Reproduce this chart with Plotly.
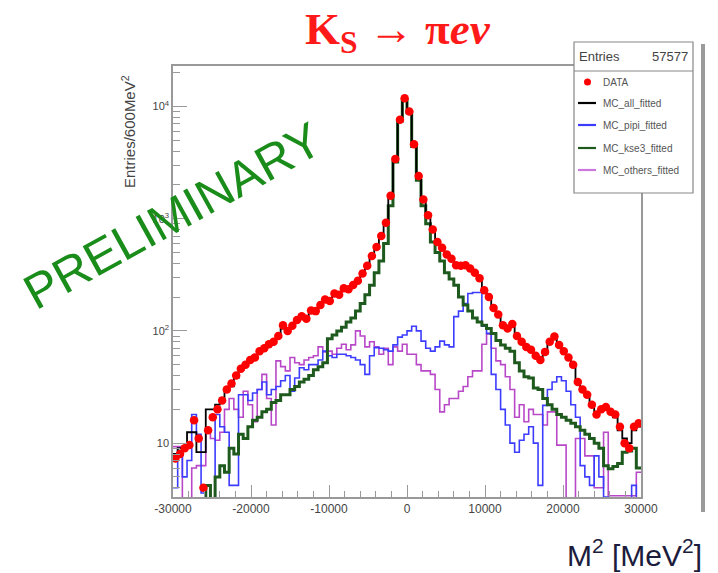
import plotly.graph_objects as go

# ---------------- data ----------------
x_min, x_max, bin_w = -30000, 30000, 600
n_bins = 100

data_vals = [7.3, 8, 9, 9.6, 16, 11, 4, 13, 17, 20,
             24, 30, 34, 40, 46, 50, 55, 58, 66, 70,
             76, 80, 90, 112, 100, 111, 125, 135, 128, 152,
             150, 170, 190, 185, 215, 210, 240, 235, 256, 280,
             325, 380, 465, 560, 700, 920, 1600, 3400, 7600, 11800,
             9000, 4600, 2400, 1480, 1070, 800, 620, 550, 480, 440,
             385, 380, 385, 360, 330, 295, 230, 200, 160, 140,
             112, 105, 115, 90, 80, 72, 68, 60, 55, 65,
             80, 89, 75, 66, 58, 50, 35, 30, 27, 22,
             18, 20, 21, 19, 18, 14, 10, 9, 14, 15]

mc_all = [8, 9, 9, 12.5, 12.5, 8.3, 8.3, 20, 20, 22,
          25, 30, 32, 38, 45, 50, 55, 60, 66, 72,
          76, 82, 90, 105, 100, 112, 125, 132, 130, 150,
          152, 170, 185, 190, 212, 215, 235, 240, 260, 285,
          330, 385, 470, 560, 700, 930, 1600, 3400, 7600, 11800,
          9000, 4600, 2400, 1480, 1070, 800, 630, 550, 480, 440,
          390, 380, 380, 360, 330, 290, 235, 200, 165, 140,
          115, 105, 110, 92, 80, 72, 66, 60, 56, 62,
          78, 85, 75, 65, 56, 48, 36, 30, 26, 22,
          19, 20, 20, 19, 17, 13, 11, 10, 13, 14]

mc_pipi = [4, 9, 5, 7, 18, 12, 3.6, 2, 3, 18,
           14, 12.5, 4.2, 4.2, 27, 27, 24, 28, 30, 35,
           27, 30, 32, 36, 40, 29, 38, 47, 45, 50,
           50, 55, 66, 60, 58, 62, 62, 60, 58, 55,
           50, 41, 60, 71, 70, 68, 66, 75, 88, 92,
           100, 110, 100, 81, 70, 66, 72, 81, 75, 72,
           134, 150, 175, 215, 220, 220, 110, 95, 41, 30,
           20, 14.5, 10, 8.3, 10.6, 12, 14, 10, 4.2, 21.7,
           30, 35, 39, 36, 29, 22, 17, 6.3, 5, 4.2,
           7.7, 5, 3.3, 3, 3, 3, 3, 3, 4.2, 3]

mc_kse3 = [1, 1, 1, 1, 1, 1, 2, 4.2, 3, 5,
           6.3, 5.5, 9, 8, 12, 11, 14, 16, 17, 19,
           20, 23, 24, 27, 27, 30, 32, 35, 37, 40,
           45, 48, 52, 85, 92, 100, 108, 120, 130, 150,
           175, 210, 255, 330, 420, 600, 1300, 3200, 7400, 11500,
           8800, 4400, 2200, 1300, 900, 620, 500, 420, 330, 290,
           255, 200, 170, 150, 130, 120, 112, 105, 95, 82,
           75, 70, 66, 52, 44, 39, 38, 31, 30, 25,
           22, 20, 18, 17, 16, 15, 14, 13, 12, 11,
           10, 9, 6.3, 5.9, 6.2, 6.6, 8.3, 8.5, 9, 6]

mc_others = [9.3, 9.3, 2, 2, 6, 6.3, 6.3, 12.5, 11, 10.6,
             12.5, 20, 25, 20, 17, 29, 22, 15.5, 30, 41,
             25, 14.5, 54, 48, 44, 58, 52, 50, 55, 58,
             60, 72, 65, 66, 62, 70, 76, 68, 75, 100,
             90, 72, 80, 72, 62, 70, 50, 72, 66, 76,
             62, 62, 50, 44, 44, 41, 30, 19, 22, 25,
             25, 29, 32, 39, 44, 44, 76, 94, 70, 54,
             50, 39, 30, 17, 22, 15.5, 20, 18, 18, 14.5,
             19, 19, 9.6, 9.6, 2, 2, 11, 11, 7.7, 7.7,
             4, 4, 12.5, 3.4, 3.4, 3.4, 3.4, 3.4, 3.4, 5.5]

x_tick_vals = [-30000, -20000, -10000, 0, 10000, 20000, 30000]
x_tick_text = ["-30000", "-20000", "-10000", "0", "10000", "20000", "30000"]
y_tick_vals = [10, 100, 1000, 10000]
y_tick_text = ["10", "10<sup>2</sup>", "10<sup>3</sup>", "10<sup>4</sup>"]

legend_names = ["DATA", "MC_all_fitted", "MC_pipi_fitted", "MC_kse3_fitted", "MC_others_fitted"]
entries = 57577

# ---------------- figure ----------------
centers = [x_min + bin_w * (i + 0.5) for i in range(n_bins)]
edges = [x_min + bin_w * i for i in range(n_bins + 1)]

def step_trace(vals, color, width):
    return go.Scatter(x=edges, y=list(vals) + [vals[-1]], mode="lines",
                      line=dict(color=color, width=width, shape="hv"),
                      showlegend=False, hoverinfo="skip")

COL_BLACK = "#000000"
COL_BLUE = "#3c3cff"
COL_GREEN = "#1e5a1e"
COL_MAG = "#b848c8"
COL_RED = "#ff0000"

fig = go.Figure()
fig.add_trace(step_trace(mc_others, COL_MAG, 1.6))
fig.add_trace(step_trace(mc_pipi, COL_BLUE, 1.6))
fig.add_trace(step_trace(mc_kse3, COL_GREEN, 3))
fig.add_trace(step_trace(mc_all, COL_BLACK, 1.8))
fig.add_trace(go.Scatter(x=centers, y=data_vals, mode="markers",
                         marker=dict(color=COL_RED, size=8.5),
                         showlegend=False, hoverinfo="skip"))

minor_vals = []
for dec in [1, 10, 100, 1000, 10000]:
    for k in range(2, 10):
        minor_vals.append(k * dec)

axis_font = dict(family="Liberation Sans, Arial, sans-serif", size=12, color="#444")

fig.update_layout(
    width=718, height=573,
    margin=dict(l=173, r=77, t=66, b=76),
    paper_bgcolor="white", plot_bgcolor="white",
    showlegend=False,
    xaxis=dict(range=[x_min, x_max], tickvals=x_tick_vals, ticktext=x_tick_text,
               ticks="inside", ticklen=12, tickcolor="#999", tickfont=axis_font,
               showline=True, linecolor="#999", linewidth=1.5, mirror=True,
               showgrid=False, zeroline=False,
               minor=dict(dtick=2000, ticks="inside", ticklen=6, tickcolor="#999")),
    yaxis=dict(type="log", range=[0.52, 4.36], tickvals=y_tick_vals, ticktext=y_tick_text,
               ticks="inside", ticklen=14, tickcolor="#999", tickfont=dict(axis_font, size=11),
               showline=True, linecolor="#999", linewidth=1.5, mirror=True,
               showgrid=False, zeroline=False,
               minor=dict(tickvals=minor_vals, ticks="inside", ticklen=7, tickcolor="#999")),
)

def px2paper_x(px):
    return (px - 173) / 468.0

def py2paper_y(py):
    return (497 - py) / 431.0

def note(px, py, text, font, angle=0, xanchor="center"):
    fig.add_annotation(xref="paper", yref="paper", x=px2paper_x(px), y=py2paper_y(py),
                       xanchor=xanchor, yanchor="middle", text=text, showarrow=False,
                       textangle=angle, font=font)

# Title
note(398, 32, "<b>K<sub>S</sub></b> → <b>π<i>eν</i></b>",
     dict(family="Liberation Serif, Times New Roman, serif", size=45, color="#ff1a1a"))

# y-axis title
note(128, 132, "Entries/600MeV<sup>2</sup>",
     dict(family="Liberation Sans, Arial, sans-serif", size=15, color="#444"), angle=-90)

# x-axis title
note(634, 553, "M<sup>2</sup> [MeV<sup>2</sup>]",
     dict(family="Liberation Sans, Arial, sans-serif", size=30, color="#1c1c3c"))

# PRELIMINARY watermark
note(172, 216, "PRELIMINARY",
     dict(family="Liberation Sans, Arial, sans-serif", size=49, color="#1a8c1a"), angle=-29)

# Legend box (ROOT style stats/legend)
lx0, lx1, ly0, ly1 = 574, 693, 42, 193
fig.add_shape(type="rect", xref="paper", yref="paper",
              x0=px2paper_x(lx0), x1=px2paper_x(lx1), y0=py2paper_y(ly1), y1=py2paper_y(ly0),
              line=dict(color="#888", width=1.2), fillcolor="white", layer="above")
fig.add_shape(type="line", xref="paper", yref="paper",
              x0=px2paper_x(lx0), x1=px2paper_x(lx1), y0=py2paper_y(71), y1=py2paper_y(71),
              line=dict(color="#888", width=1.2), layer="above")
note(577, 57, "Entries", dict(family="Liberation Sans, Arial, sans-serif", size=13, color="#444"),
     xanchor="left")
note(690, 57, str(entries), dict(family="Liberation Sans, Arial, sans-serif", size=13, color="#444"),
     xanchor="right")

legend_cols = [COL_RED, COL_BLACK, COL_BLUE, COL_GREEN, "#cc77dd"]
legend_y = [82, 103, 125, 148, 170]
for name, col, yy in zip(legend_names, legend_cols, legend_y):
    if name == "DATA":
        fig.add_shape(type="circle", xref="paper", yref="paper",
                      x0=px2paper_x(584), x1=px2paper_x(591), y0=py2paper_y(yy + 3.5), y1=py2paper_y(yy - 3.5),
                      line=dict(color=col, width=0), fillcolor=col, layer="above")
    else:
        fig.add_shape(type="line", xref="paper", yref="paper",
                      x0=px2paper_x(578), x1=px2paper_x(596), y0=py2paper_y(yy), y1=py2paper_y(yy),
                      line=dict(color=col, width=2.2), layer="above")
    note(601, yy, name, dict(family="Liberation Sans Narrow, Liberation Sans, Arial, sans-serif",
                              size=10, color="#555"), xanchor="left")

# grey side bar at right
fig.add_shape(type="rect", xref="paper", yref="paper",
              x0=px2paper_x(701), x1=px2paper_x(705), y0=py2paper_y(512), y1=py2paper_y(44),
              line=dict(width=0), fillcolor="#9a9a9a", layer="above")

fig.write_html("out.html")
